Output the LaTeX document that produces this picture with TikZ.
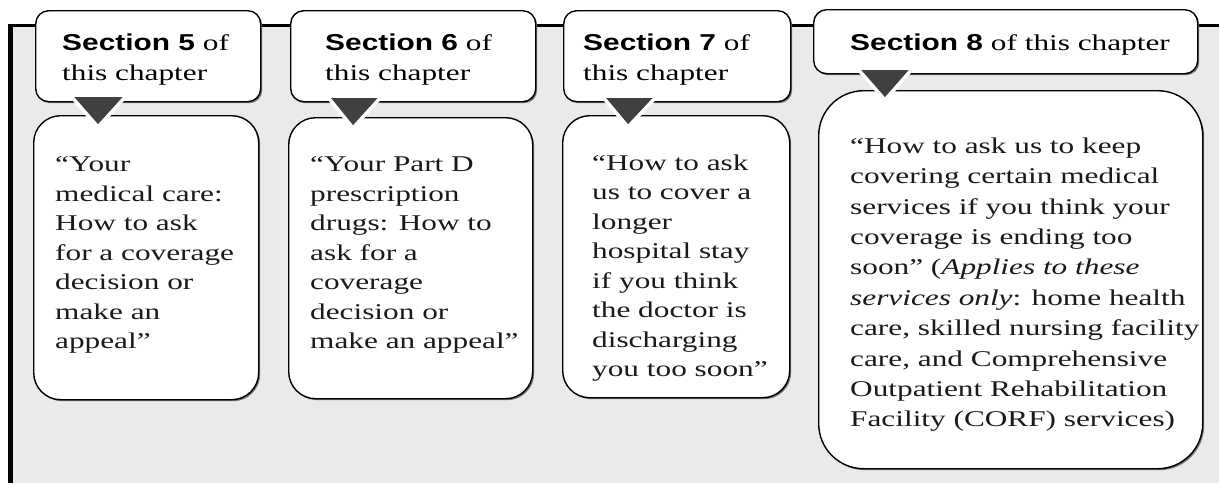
\documentclass[tikz,border=0pt]{standalone}
\usepackage{fontspec}
\setmainfont{Liberation Serif}[FakeStretch=1.39]
\newfontfamily\hdsans{Liberation Sans}[FakeStretch=1.3]
\usetikzlibrary{shadows}
\definecolor{panelgray}{HTML}{EAEAEA}
\definecolor{pointergray}{HTML}{404040}
\definecolor{bodyink}{HTML}{1A1A1A}
\newcommand{\secname}[1]{{\hdsans\bfseries\fontsize{23}{30}\selectfont #1}}
\begin{document}
\begin{tikzpicture}[x=1pt,y=-1pt,
  boxshadow/.style={drop shadow={shadow xshift=1.5pt, shadow yshift=-1.5pt, fill=black!55, opacity=1}},
  hdbox/.style={draw=black, line width=1.4pt, fill=white, rounded corners=13pt, inner sep=0pt, anchor=north west, boxshadow},
  bodybox/.style={draw=black, line width=1.4pt, fill=white, rounded corners=27pt, inner sep=0pt, anchor=north west, boxshadow},
  pointer/.style={fill=pointergray, draw=white, line width=3.5pt, line join=miter},
  hdtext/.style={anchor=north west, inner sep=0pt, align=left, text=black, font=\fontsize{22.5}{30}\selectfont},
  bodytext/.style={anchor=north west, inner sep=0pt, align=left, text=bodyink, font=\fontsize{22.5}{29.5}\selectfont}
]
\useasboundingbox (0,0) rectangle (1219,483);
% panel
\fill[panelgray] (10,25.5) rectangle (1219,483);
\draw[line width=2.5pt] (8,25.5) -- (1219,25.5);
\draw[line width=5pt] (10.5,24.3) -- (10.5,483);

% header boxes
\node[hdbox, minimum width=225pt, minimum height=91pt] (h5) at (35,10) {};
\node[hdbox, minimum width=245pt, minimum height=91pt] (h6) at (290,10) {};
\node[hdbox, minimum width=227pt, minimum height=91pt] (h7) at (563,10) {};
\node[hdbox, minimum width=384pt, minimum height=64pt] (h8) at (813,9) {};

% body boxes
\node[bodybox, minimum width=225pt, minimum height=284pt] (b5) at (33,115) {};
\node[bodybox, minimum width=244pt, minimum height=281pt] (b6) at (288,117) {};
\node[bodybox, minimum width=227pt, minimum height=282pt] (b7) at (562,115) {};
\node[bodybox, rounded corners=45pt, minimum width=384pt, minimum height=378pt] (b8) at (818,90) {};

% pointers
\filldraw[pointer] (70,95) -- (127,95) -- (98,127) -- cycle;
\filldraw[pointer] (327,96) -- (382,96) -- (353,128) -- cycle;
\filldraw[pointer] (602,96) -- (657,96) -- (628,127) -- cycle;
\filldraw[pointer] (857,68) -- (913,68) -- (885,100) -- cycle;

% header texts
\node[hdtext] (h5t) at (62,33.5) {\secname{Section 5} of\\this chapter};
\node[hdtext] (h6t) at (325,33.5) {\secname{Section 6} of\\this chapter};
\node[hdtext] (h7t) at (583,33.5) {\secname{Section 7} of\\this chapter};
\node[hdtext] (h8t) at (850,33.5) {\secname{Section 8} of this chapter};

% body texts
\node[bodytext] (b5t) at (55,156.5) {“Your\\medical care:\\How to ask\\for a coverage\\decision or\\make an\\appeal”};
\node[bodytext] (b6t) at (310,156.5) {“Your Part D\\prescription\\drugs: How to\\ask for a\\coverage\\decision or\\make an appeal”};
\node[bodytext] (b7t) at (592,154.5) {“How to ask\\us to cover a\\longer\\hospital stay\\if you think\\the doctor is\\discharging\\you too soon”};
\node[bodytext, font=\fontsize{22.5}{30.4}\selectfont] (b8t) at (850,137.5) {“How to ask us to keep\\covering certain medical\\services if you think your\\coverage is ending too\\soon” (\textit{Applies to these}\\\textit{services only}: home health\\care, skilled nursing facility\\care, and Comprehensive\\Outpatient Rehabilitation\\Facility (CORF) services)};
\end{tikzpicture}
\end{document}
